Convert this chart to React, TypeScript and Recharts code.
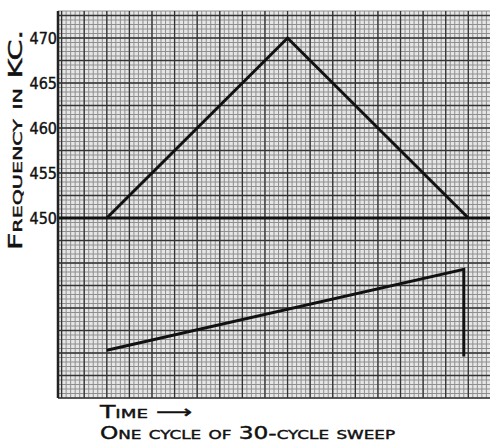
import React from 'react';
import { LineChart, Line, XAxis, YAxis, CartesianGrid, ReferenceLine } from 'recharts';

// Frequency sweep (triangle) — time units vs frequency in KC
const sweepTime = [0, 20, 40];
const sweepFreq = [450, 470, 450];

// Sweep voltage sawtooth (lower trace), plotted on the same paper
const rampTime = [0, 39.5, 39.5];
const rampLevel = [435.3, 444.3, 434.6];

const baseFreq = 450;
const yTicks = [450, 455, 460, 465, 470];
const yDomain = [430, 473];
const xDomain = [-5.4, 42.4];

const sweepData = sweepTime.map((t, i) => ({ t, f: sweepFreq[i] }));
const rampData = rampTime.map((t, i) => ({ t, f: rampLevel[i] }));

const range = (a: number, b: number, s: number) => {
  const out: number[] = [];
  for (let v = a; v <= b + 1e-9; v += s) out.push(Math.round(v * 100) / 100);
  return out;
};
const minorX = range(-5, 42, 0.5);
const minorY = range(430, 473, 0.5);
const majorX = range(-5, 42.5, 2.5);
const majorY = range(430, 472.5, 2.5);

const font = '"DejaVu Sans Condensed", "DejaVu Sans", sans-serif';

const scaleY = (o: any, v: number) => o.top + ((yDomain[1] - v) / (yDomain[1] - yDomain[0])) * o.height;
const scaleX = (o: any, v: number) => o.left + ((v - xDomain[0]) / (xDomain[1] - xDomain[0])) * o.width;

const hGen = (vals: number[]) => (p: any) => {
  const o = p.offset;
  const s = p.yAxis && typeof p.yAxis.scale === 'function' ? p.yAxis.scale : null;
  return vals.map((v) => (s ? s(v) : scaleY(o, v)));
};
const vGen = (vals: number[]) => (p: any) => {
  const o = p.offset;
  const s = p.xAxis && typeof p.xAxis.scale === 'function' ? p.xAxis.scale : null;
  return vals.map((v) => (s ? s(v) : scaleX(o, v)));
};

const YLabel = () => {
  const cx = 15;
  const cy = 140;
  return (
    <text
      x={cx}
      y={cy}
      transform={`rotate(-90 ${cx} ${cy})`}
      textAnchor="middle"
      dominantBaseline="central"
      fontFamily={font}
      fontSize={19}
      fontWeight={400}
      style={{ fontVariant: 'small-caps' }}
      fill="#111"
      stroke="#111"
      strokeWidth={0.4}
      textLength={220}
      lengthAdjust="spacingAndGlyphs"
    >
      Frequency in KC.
    </text>
  );
};

export default function App() {
  return (
    <div style={{ position: 'absolute', left: 0, top: 0, width: 490, height: 447, background: '#fff' }}>
      <LineChart width={490} height={447} margin={{ top: 11, right: 0, left: 0, bottom: 49 }}>
        <CartesianGrid
          horizontalCoordinatesGenerator={hGen(minorY)}
          verticalCoordinatesGenerator={vGen(minorX)}
          stroke="#8e8e8e"
          strokeWidth={1}
          fill="#e6e6e6"
        />
        <CartesianGrid
          horizontalCoordinatesGenerator={hGen(majorY)}
          verticalCoordinatesGenerator={vGen(majorX)}
          stroke="#333"
          strokeWidth={1.3}
        />
        <XAxis
          type="number"
          dataKey="t"
          domain={xDomain}
          allowDataOverflow
          tick={false}
          tickLine={false}
          height={0}
          axisLine={{ stroke: '#222', strokeWidth: 2.5 }}
        />
        <YAxis
          type="number"
          dataKey="f"
          domain={yDomain}
          allowDataOverflow
          ticks={yTicks}
          width={58}
          tickLine={false}
          tickSize={0}
          tickMargin={1}
          axisLine={{ stroke: '#222', strokeWidth: 2.5 }}
          tick={{ fill: '#111', fontSize: 16, fontFamily: font, fontWeight: 400, stroke: '#111', strokeWidth: 0.4 }}
          label={<YLabel />}
        />
        <ReferenceLine y={baseFreq} stroke="#111" strokeWidth={3} />
        <Line
          data={sweepData}
          dataKey="f"
          type="linear"
          stroke="#111"
          strokeWidth={3}
          dot={false}
          isAnimationActive={false}
        />
        <Line
          data={rampData}
          dataKey="f"
          type="linear"
          stroke="#111"
          strokeWidth={3}
          dot={false}
          isAnimationActive={false}
        />
      </LineChart>
      <svg
        width={490}
        height={447}
        style={{ position: 'absolute', left: 0, top: 0, pointerEvents: 'none' }}
      >
        <g fontFamily={font} fill="#111" stroke="#111" strokeWidth={0.4} fontWeight={400} style={{ fontVariant: 'small-caps' }}>
          <text x={100} y={418} fontSize={18} textLength={92} lengthAdjust="spacingAndGlyphs">
            Time ⟶
          </text>
          <text x={100} y={439} fontSize={18} textLength={295} lengthAdjust="spacingAndGlyphs">
            One cycle of 30-cycle sweep
          </text>
        </g>
      </svg>
    </div>
  );
}
